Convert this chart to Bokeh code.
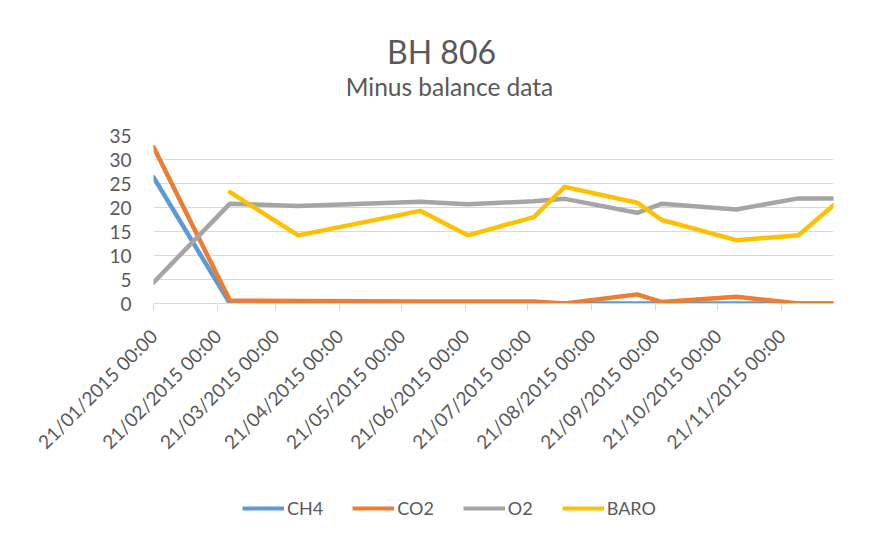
import math
import pandas as pd
from bokeh.plotting import figure
from bokeh.layouts import column
from bokeh.models import (Range1d, FixedTicker, DatetimeTickFormatter, Legend, LegendItem,
                          Label, ColumnDataSource)
from bokeh.embed import file_html
from bokeh.resources import INLINE

# ---------------- data ----------------
dates = ["2015-01-21", "2015-02-27", "2015-04-01", "2015-05-30", "2015-06-22", "2015-07-24",
         "2015-08-08", "2015-09-12", "2015-09-24", "2015-10-30", "2015-11-29", "2015-12-16"]
ch4 = [26.3, 0.0, 0.0, 0.0, 0.0, 0.0, 0.0, 0.0, 0.0, 0.0, 0.0, 0.0]
co2 = [32.6, 0.6, 0.5, 0.4, 0.4, 0.4, 0.0, 1.9, 0.3, 1.4, 0.0, 0.0]
o2 = [4.4, 20.8, 20.3, 21.2, 20.7, 21.3, 21.8, 18.9, 20.8, 19.6, 21.9, 21.9]
baro = [float("nan"), 23.2, 14.2, 19.3, 14.2, 18.0, 24.3, 21.0, 17.4, 13.2, 14.2, 20.5]
series_names = ["CH4", "CO2", "O2", "BARO"]
series_colors = ["#5B9BD5", "#ED7D31", "#A5A5A5", "#FFC000"]
tick_dates = ["2015-01-21", "2015-02-21", "2015-03-21", "2015-04-21", "2015-05-21", "2015-06-21",
              "2015-07-21", "2015-08-21", "2015-09-21", "2015-10-21", "2015-11-21"]
y_ticks = [0, 5, 10, 15, 20, 25, 30, 35]
title_text = "BH 806"
subtitle_text = "Minus balance data"

TXT = "#595959"
FONT = "Lato"
W = 862

# ---------------- title strip ----------------
head = figure(width=W, height=120, output_backend="svg", toolbar_location=None,
              x_axis_location=None, y_axis_location=None,
              min_border_left=153, min_border_right=29, min_border_top=0, min_border_bottom=0)
head.outline_line_color = None
head.grid.visible = False
head.add_layout(Label(x=288, y=69, x_units="screen", y_units="screen", text=title_text,
                      text_align="center", text_baseline="alphabetic", text_font=FONT,
                      text_font_size="32px", text_color=TXT))
head.add_layout(Label(x=296, y=34, x_units="screen", y_units="screen", text=subtitle_text,
                      text_align="center", text_baseline="alphabetic", text_font=FONT,
                      text_font_size="24.5px", text_color=TXT))

# ---------------- main figure ----------------
x = pd.to_datetime(dates)
src = ColumnDataSource(dict(x=x, CH4=ch4, CO2=co2, O2=o2, BARO=baro))

p = figure(width=W, height=370, x_axis_type="datetime",
           x_range=Range1d(x[0], x[-1]), y_range=Range1d(0, 35),
           output_backend="svg", toolbar_location=None,
           min_border_left=153, min_border_right=29, min_border_top=15, min_border_bottom=187)
p.outline_line_color = None
p.background_fill_color = "white"
p.border_fill_color = "white"

renderers = []
for name, col in zip(series_names, series_colors):
    r = p.line("x", name, source=src, line_color=col, line_width=4.5, line_join="round", line_cap="round")
    renderers.append(r)

# grid
p.xgrid.visible = False
p.ygrid.grid_line_color = "#D9D9D9"
p.ygrid.grid_line_width = 1

# y axis
p.yaxis.ticker = FixedTicker(ticks=y_ticks)
p.yaxis.axis_line_color = None
p.yaxis.major_tick_line_color = None
p.yaxis.minor_tick_line_color = None
p.yaxis.major_tick_out = 0
p.yaxis.major_tick_in = 0
p.yaxis.major_label_standoff = 22
p.yaxis.major_label_text_font = FONT
p.yaxis.major_label_text_font_size = "19px"
p.yaxis.major_label_text_color = TXT

# x axis
tick_ms = [pd.Timestamp(d).value // 10**6 for d in tick_dates]
p.xaxis.ticker = FixedTicker(ticks=tick_ms)
fmt = "%d/%m/%Y %H:%M"
p.xaxis.formatter = DatetimeTickFormatter(microseconds=fmt, milliseconds=fmt, seconds=fmt, minsec=fmt,
                                          minutes=fmt, hourmin=fmt, hours=fmt, days=fmt, months=fmt,
                                          years=fmt)
p.xaxis.axis_line_color = "#D9D9D9"
p.xaxis.axis_line_width = 1
p.xaxis.major_tick_line_color = "#D9D9D9"
p.xaxis.major_tick_out = 7
p.xaxis.major_tick_in = 0
p.xaxis.minor_tick_line_color = None
p.xaxis.major_label_orientation = math.pi / 4
p.xaxis.major_label_standoff = 22
p.xaxis.major_label_text_font = FONT
p.xaxis.major_label_text_font_size = "19px"
p.xaxis.major_label_text_color = TXT

# ---------------- legend strip ----------------
leg = figure(width=W, height=41, output_backend="svg", toolbar_location=None,
             x_axis_location=None, y_axis_location=None,
             min_border_left=153, min_border_right=29, min_border_top=0, min_border_bottom=0)
leg.outline_line_color = None
leg.grid.visible = False
nan = float("nan")
leg_renderers = [leg.line(x=[nan], y=[nan], line_color=c, line_width=4) for c in series_colors]
items = [LegendItem(label=n, renderers=[r]) for n, r in zip(series_names, leg_renderers)]
legend = Legend(items=items, orientation="horizontal", location=(89, 12), padding=0, margin=0,
                spacing=29, glyph_width=42, glyph_height=20, label_standoff=3,
                label_text_font=FONT, label_text_font_size="18px", label_text_color=TXT,
                border_line_color=None, background_fill_alpha=0)
leg.add_layout(legend)

open("out.html", "w").write(file_html(column(head, p, leg), INLINE))
